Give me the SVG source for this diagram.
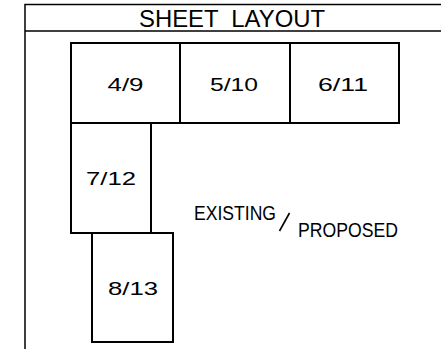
<svg xmlns="http://www.w3.org/2000/svg" width="441" height="349" viewBox="0 0 441 349">
<style>
.frame{fill:none;stroke:#000;stroke-width:1.5}
.box{fill:#fff;stroke:#000;stroke-width:2}
.t{font-family:"Liberation Sans",Arial,sans-serif;fill:#000;text-anchor:middle}
.n{font-size:19px}
</style>
<rect width="441" height="349" fill="#fff"/>
<g id="frame">
<path class="frame" d="M25,349 V4.5 H441 M25,31 H441"/>
<text class="t" x="232" y="27" font-size="24" textLength="186" lengthAdjust="spacingAndGlyphs" xml:space="preserve" style="white-space:pre">SHEET  LAYOUT</text>
</g>
<g id="connectors"></g>
<g id="n49"><rect class="box" x="71" y="43" width="109" height="80"/><text class="t n" x="125.5" y="90.5" textLength="36" lengthAdjust="spacingAndGlyphs">4/9</text></g>
<g id="n510"><rect class="box" x="180" y="43" width="110" height="80"/><text class="t n" x="234" y="90.5" textLength="48" lengthAdjust="spacingAndGlyphs">5/10</text></g>
<g id="n611"><rect class="box" x="290" y="43" width="109" height="80"/><text class="t n" x="343" y="90.5" textLength="50" lengthAdjust="spacingAndGlyphs">6/11</text></g>
<g id="n712"><rect class="box" x="71" y="123" width="80" height="110"/><text class="t n" x="111" y="185" textLength="50" lengthAdjust="spacingAndGlyphs">7/12</text></g>
<g id="n813"><rect class="box" x="92" y="233" width="81" height="109"/><text class="t n" x="133" y="295" textLength="50" lengthAdjust="spacingAndGlyphs">8/13</text></g>
<g id="legend">
<text class="t" x="235" y="220" font-size="19.5" textLength="82" lengthAdjust="spacingAndGlyphs">EXISTING</text>
<line x1="279.5" y1="231" x2="289.5" y2="213" stroke="#000" stroke-width="1.6"/>
<text class="t" x="348" y="236.5" font-size="19.5" textLength="100" lengthAdjust="spacingAndGlyphs">PROPOSED</text>
</g>
</svg>
